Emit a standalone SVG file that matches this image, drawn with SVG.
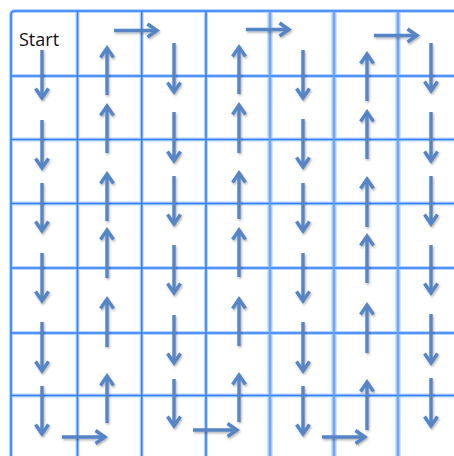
<svg xmlns="http://www.w3.org/2000/svg" width="454" height="456" viewBox="0 0 454 456">
<style>
.glow{stroke:#b8d3fb;stroke-width:4;fill:none}
.grid{stroke:#2f80f4;stroke-width:1.6;fill:none}
.soft{stroke:#a6c8fa;stroke-width:5;fill:none}
.softcore{stroke:#5f9ef6;stroke-width:1.6;fill:none}
.arr{stroke:#5785c6;stroke-width:3.4;fill:none;marker-end:url(#head)}
.lbl{font-family:"Open Sans","Liberation Sans",sans-serif;font-size:18px;fill:#111}
</style>
<defs>
<marker id="head" markerUnits="userSpaceOnUse" markerWidth="20" markerHeight="20" viewBox="-12 -10 16 20" refX="0" refY="0" orient="auto">
<path d="M-9.5,-6.5 L0,0 L-9.5,6.5" fill="none" stroke="#5785c6" stroke-width="3.4" stroke-linejoin="miter"/>
</marker>
<filter id="sh" filterUnits="userSpaceOnUse" x="0" y="0" width="454" height="456">
<feDropShadow dx="1" dy="1.5" stdDeviation="1.2" flood-color="#000" flood-opacity="0.3"/>
</filter>
</defs>
<rect width="454" height="456" fill="#ffffff"/>
<g id="grid">
<g class="glow">
<path d="M11,456 V15 Q11,11 15,11 H454"/>
<path d="M77.5,11 V456 M141.7,11 V456 M206,11 V456"/>
<path d="M11,76 H454 M11,139.5 H454 M11,203.5 H454 M11,268 H454 M11,333 H454 M11,395.5 H454"/>
</g>
<g class="soft"><path d="M270,11 V456 M334,11 V456 M398,11 V456"/></g>
<g class="grid">
<path d="M11,456 V15 Q11,11 15,11 H454"/>
<path d="M77.5,11 V456 M141.7,11 V456 M206,11 V456"/>
<path d="M11,76 H454 M11,139.5 H454 M11,203.5 H454 M11,268 H454 M11,333 H454 M11,395.5 H454"/>
</g>
<g class="softcore"><path d="M270,11 V456 M334,11 V456 M398,11 V456"/></g>
</g>
<g id="start"><text class="lbl" x="19" y="46">Start</text></g>
<g id="connectors" filter="url(#sh)">
<g id="col1">
<path class="arr" d="M42,50 V98"/><path class="arr" d="M42,120 V168"/><path class="arr" d="M42,183 V231"/><path class="arr" d="M42,253 V301"/><path class="arr" d="M42,322 V371"/><path class="arr" d="M42,386 V434"/>
</g>
<g id="bottom1"><path class="arr" d="M62,437 H105"/></g>
<g id="col2">
<path class="arr" d="M107,423 V376"/><path class="arr" d="M107,347 V299"/><path class="arr" d="M107,278 V230"/><path class="arr" d="M107,221 V174"/><path class="arr" d="M107,153 V106"/><path class="arr" d="M107,95 V48"/>
</g>
<g id="top1"><path class="arr" d="M114,30.5 H157"/></g>
<g id="col3">
<path class="arr" d="M174,43 V92"/><path class="arr" d="M174,112 V161"/><path class="arr" d="M174,176 V224"/><path class="arr" d="M174,245 V293"/><path class="arr" d="M174,315 V363"/><path class="arr" d="M174,379 V426"/>
</g>
<g id="bottom2"><path class="arr" d="M193,430 H237"/></g>
<g id="col4">
<path class="arr" d="M239,422 V375"/><path class="arr" d="M239,346 V299"/><path class="arr" d="M239,277 V230"/><path class="arr" d="M239,219 V173"/><path class="arr" d="M239,153 V105"/><path class="arr" d="M239,94 V47"/>
</g>
<g id="top2"><path class="arr" d="M246,29.5 H289"/></g>
<g id="col5">
<path class="arr" d="M303,50 V98"/><path class="arr" d="M303,119 V167"/><path class="arr" d="M303,183 V231"/><path class="arr" d="M303,253 V301"/><path class="arr" d="M303,322 V371"/><path class="arr" d="M303,386 V434"/>
</g>
<g id="bottom3"><path class="arr" d="M322,437 H365"/></g>
<g id="col6">
<path class="arr" d="M367,430 V382"/><path class="arr" d="M367,353 V305"/><path class="arr" d="M367,283 V236"/><path class="arr" d="M367,227 V179"/><path class="arr" d="M367,159 V112"/><path class="arr" d="M367,101 V54"/>
</g>
<g id="top3"><path class="arr" d="M374,35.5 H417"/></g>
<g id="col7">
<path class="arr" d="M431,43 V91"/><path class="arr" d="M431,112 V161"/><path class="arr" d="M431,176 V224"/><path class="arr" d="M431,245 V293"/><path class="arr" d="M431,314 V363"/><path class="arr" d="M431,378 V426"/>
</g>
</g>
</svg>
